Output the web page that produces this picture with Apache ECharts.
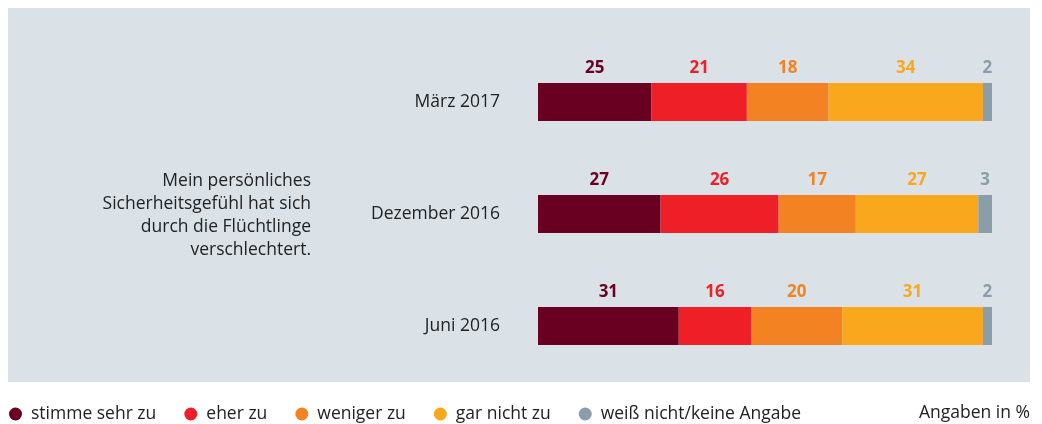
<!DOCTYPE html>
<html>
<head>
<meta charset="utf-8">
<script src="https://cdn.jsdelivr.net/npm/echarts@6/dist/echarts.min.js"></script>
<style>
  html, body { margin: 0; padding: 0; background: #fff; }
  #chart { width: 1042px; height: 424px; }
</style>
</head>
<body>
<div id="chart"></div>
<script>
// Zeitpunkte der Befragung (oben nach unten)
const categories = ['März 2017', 'Dezember 2016', 'Juni 2016']

// Antworten in Prozent
const seriesNames = ['stimme sehr zu', 'eher zu', 'weniger zu', 'gar nicht zu', 'weiß nicht/keine Angabe']
const stimmeSehrZu = [25, 27, 31]
const eherZu = [21, 26, 16]
const wenigerZu = [18, 17, 20]
const garNichtZu = [34, 27, 31]
const weissNicht = [2, 3, 2]

const colors = ['#6a0021', '#ee1f27', '#f38322', '#f9a71c', '#8a9ea9']
const values = [stimmeSehrZu, eherZu, wenigerZu, garNichtZu, weissNicht]

const font = 'Open Sans'
const size = 17.5

const chart = echarts.init(document.getElementById('chart'))

const option = {
  animation: false,
  textStyle: { fontFamily: font },
  grid: { left: 538, right: 50, top: 46, height: 336 },
  xAxis: { type: 'value', min: 0, max: 100, show: false },
  yAxis: {
    type: 'category',
    inverse: true,
    data: categories,
    axisLine: { show: false },
    axisTick: { show: false },
    axisLabel: { margin: 38, fontSize: size, color: '#222', fontFamily: font }
  },
  legend: {
    left: 4,
    top: 400,
    icon: 'circle',
    itemWidth: 13,
    itemHeight: 13,
    itemGap: 28,
    textStyle: { fontSize: size, color: '#222', fontFamily: font, padding: [0, 0, 0, 4] },
    data: seriesNames
  },
  graphic: [
    {
      type: 'rect',
      z: -10,
      shape: { x: 8, y: 8, width: 1022, height: 374 },
      style: { fill: '#dae2e8' }
    },
    {
      type: 'text',
      x: 311,
      y: 170,
      style: {
        text: 'Mein persönliches\nSicherheitsgefühl hat sich\ndurch die Flüchtlinge\nverschlechtert.',
        align: 'right',
        verticalAlign: 'top',
        lineHeight: 23,
        fontSize: size,
        fill: '#222',
        fontFamily: font
      }
    },
    {
      type: 'text',
      x: 1030,
      y: 413,
      style: {
        text: 'Angaben in %',
        align: 'right',
        verticalAlign: 'middle',
        fontSize: size,
        fill: '#222',
        fontFamily: font
      }
    }
  ],
  series: seriesNames.map((name, i) => ({
    name,
    type: 'bar',
    stack: 'total',
    barWidth: 38,
    data: values[i],
    itemStyle: { color: colors[i] },
    label: {
      show: true,
      position: 'top',
      distance: 6,
      fontSize: 17,
      fontWeight: 'bold',
      fontFamily: font,
      color: colors[i]
    }
  }))
}

chart.setOption(option)
</script>
</body>
</html>
